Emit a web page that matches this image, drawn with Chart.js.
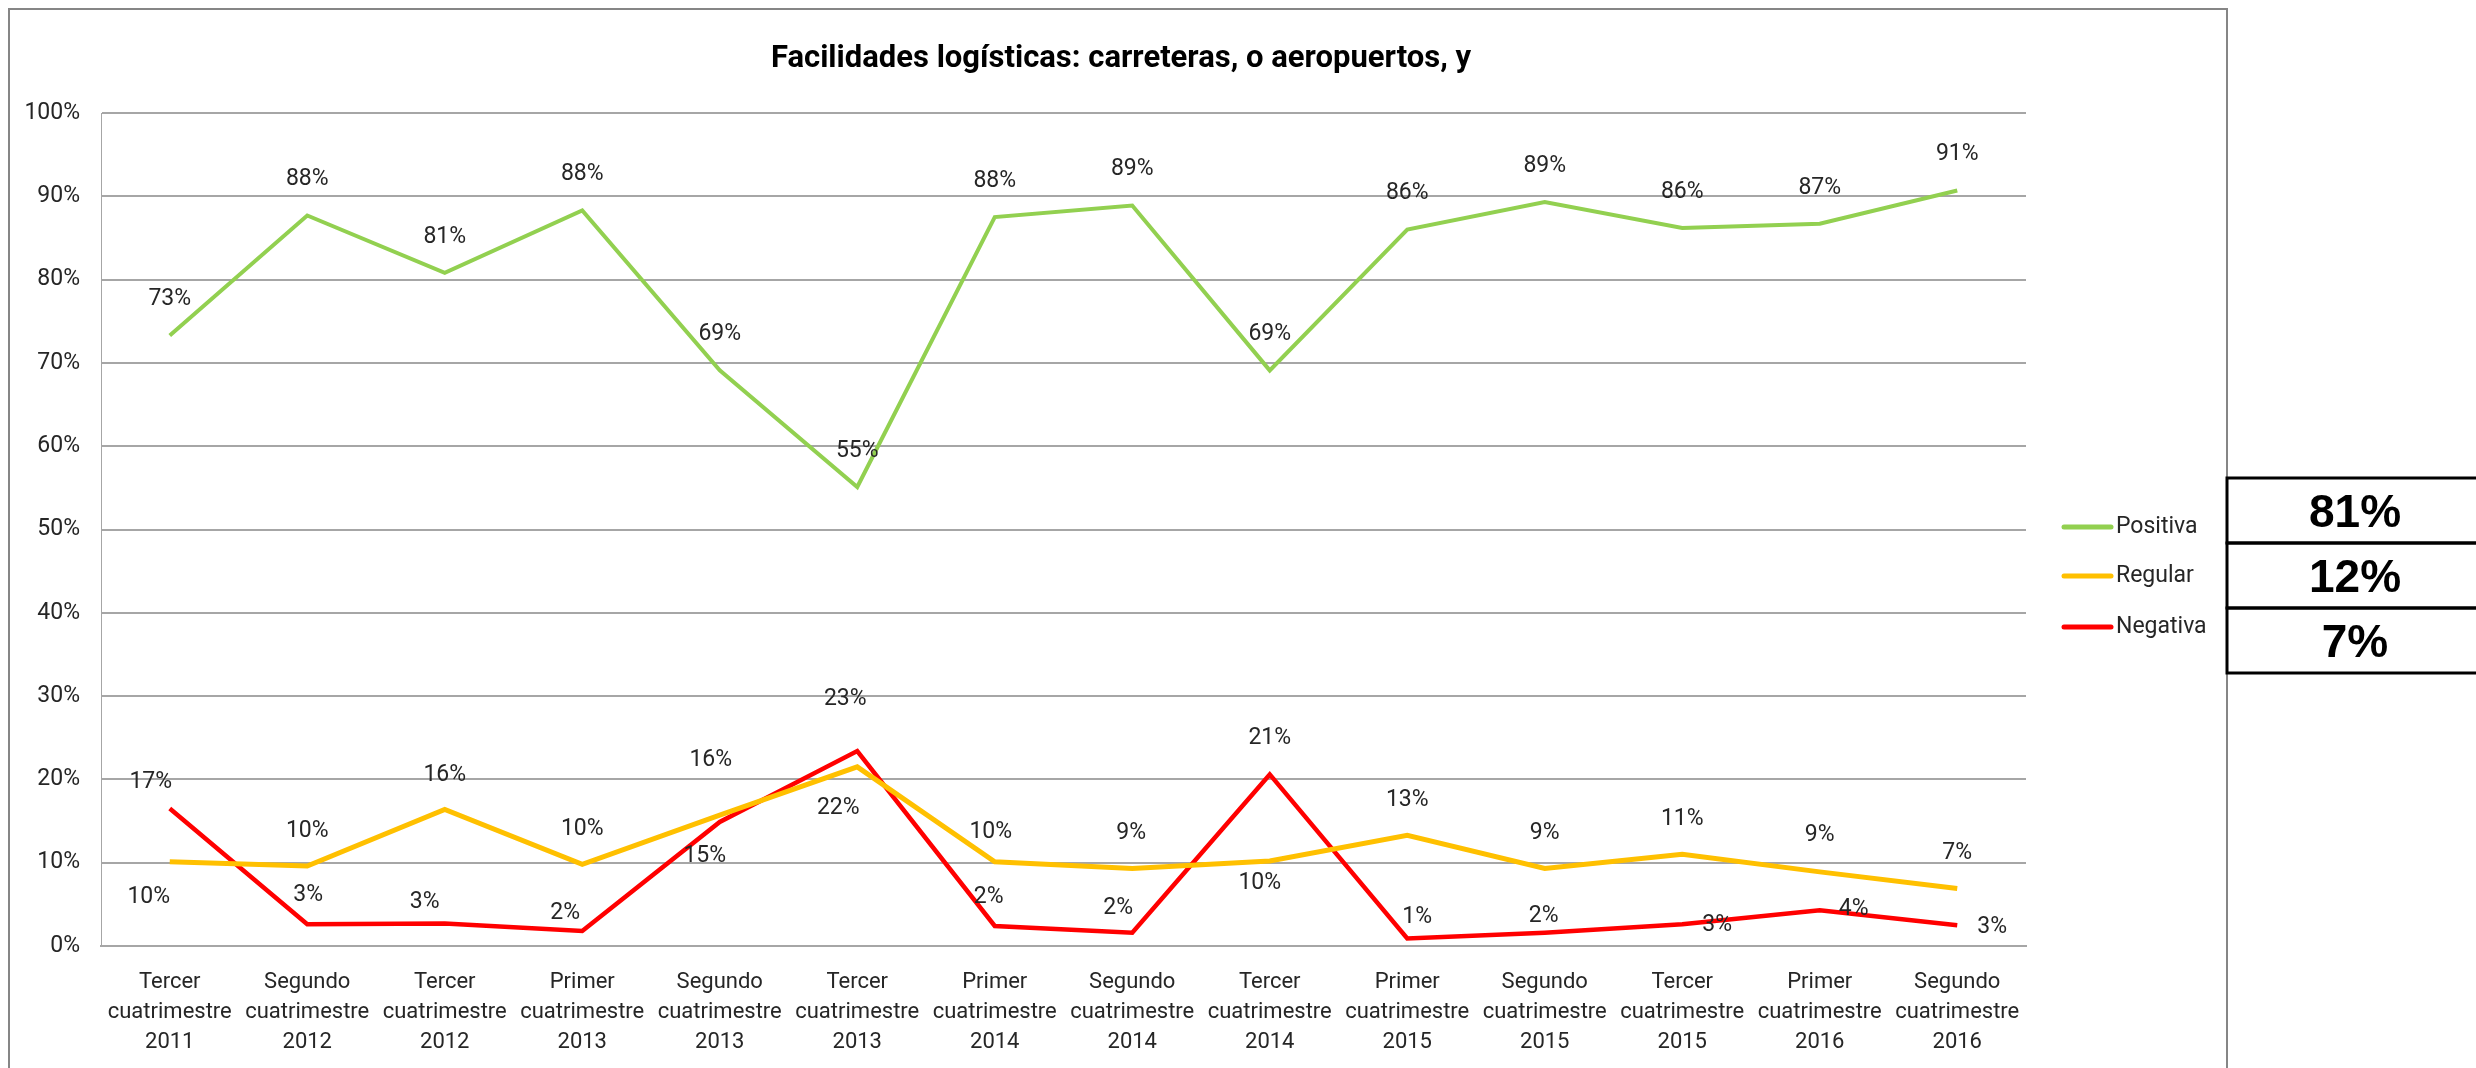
<!DOCTYPE html>
<html>
<head>
<meta charset="utf-8">
<script src="https://cdn.jsdelivr.net/npm/chart.js@4.4.1/dist/chart.umd.min.js"></script>
<style>
  html, body { margin: 0; padding: 0; background: #fff; }
  #wrap { position: relative; width: 2476px; height: 1068px; }
</style>
</head>
<body>
<div id="wrap"><canvas id="chart"></canvas></div>
<script>
const chartTitle = "Facilidades logísticas: carreteras, o aeropuertos, y";

const categories = [
  ["Tercer", "cuatrimestre", "2011"],
  ["Segundo", "cuatrimestre", "2012"],
  ["Tercer", "cuatrimestre", "2012"],
  ["Primer", "cuatrimestre", "2013"],
  ["Segundo", "cuatrimestre", "2013"],
  ["Tercer", "cuatrimestre", "2013"],
  ["Primer", "cuatrimestre", "2014"],
  ["Segundo", "cuatrimestre", "2014"],
  ["Tercer", "cuatrimestre", "2014"],
  ["Primer", "cuatrimestre", "2015"],
  ["Segundo", "cuatrimestre", "2015"],
  ["Tercer", "cuatrimestre", "2015"],
  ["Primer", "cuatrimestre", "2016"],
  ["Segundo", "cuatrimestre", "2016"]
];

const seriesNames = ["Positiva", "Regular", "Negativa"];
const positiva = [73.3, 87.7, 80.8, 88.3, 69.1, 55.1, 87.5, 88.9, 69.1, 86.0, 89.3, 86.2, 86.7, 90.7];
const regular  = [10.1, 9.6, 16.4, 9.8, 15.7, 21.5, 10.1, 9.3, 10.2, 13.3, 9.3, 11.0, 8.9, 6.9];
const negativa = [16.5, 2.6, 2.7, 1.8, 14.9, 23.4, 2.4, 1.6, 20.6, 0.9, 1.6, 2.6, 4.3, 2.5];

const yTicks = [0, 10, 20, 30, 40, 50, 60, 70, 80, 90, 100];
const summary = ["81%", "12%", "7%"];

// label offsets (style only)
const offPositiva = positiva.map(() => [0, -36]);
const offRegular = [[-21, 35], [0, -35], [0, -34], [0, -35], [-9, -55], [-19, 41], [-4, -30],
  [-1, -35], [-10, 22], [0, -35], [0, -35], [0, -35], [0, -37], [0, -35]];
const offNegativa = [[-19, -26], [1, -29], [-20, -21], [-17, -18], [-15, 34], [-12, -52], [-6, -29],
  [-14, -24], [0, -36], [10, -21], [-1, -16], [35, 1], [34, -1], [35, 2]];

const FONT = "Roboto, 'Liberation Sans', sans-serif";
const colors = ["#92D050", "#FFC000", "#FF0000"];

const extras = {
  id: "extras",
  afterDatasetsDraw(chart) {
    const ctx = chart.ctx;
    const offs = [offPositiva, offRegular, offNegativa];
    ctx.save();
    ctx.font = "23px " + FONT;
    ctx.fillStyle = "#262626";
    ctx.textAlign = "center";
    ctx.textBaseline = "middle";
    chart.data.datasets.forEach((ds, di) => {
      chart.getDatasetMeta(di).data.forEach((pt, i) => {
        const o = offs[di][i];
        ctx.fillText(Math.round(ds.data[i]) + "%", pt.x + o[0], pt.y + o[1]);
      });
    });
    ctx.restore();
  },
  afterDraw(chart) {
    const ctx = chart.ctx;
    ctx.save();
    // outer chart frame
    ctx.strokeStyle = "#868686";
    ctx.lineWidth = 2;
    ctx.beginPath();
    ctx.moveTo(9, 1070); ctx.lineTo(9, 9); ctx.lineTo(2227, 9); ctx.lineTo(2227, 1070);
    ctx.stroke();

    // title
    ctx.fillStyle = "#000";
    ctx.font = "bold 31px " + FONT;
    ctx.textAlign = "center";
    ctx.textBaseline = "middle";
    ctx.fillText(chartTitle, 1121, 59);

    // legend
    const ly = [527, 576, 627];
    ctx.font = "23px " + FONT;
    ctx.textAlign = "left";
    ctx.lineCap = "round";
    chart.data.datasets.forEach((ds, i) => {
      ctx.strokeStyle = ds.borderColor;
      ctx.lineWidth = 5;
      ctx.beginPath();
      ctx.moveTo(2064, ly[i]); ctx.lineTo(2111, ly[i]);
      ctx.stroke();
      ctx.fillStyle = "#262626";
      ctx.fillText(ds.label, 2116, ly[i]);
    });

    // summary boxes
    ctx.lineCap = "butt";
    ctx.strokeStyle = "#000";
    ctx.lineWidth = 3;
    const rows = [478, 543, 608, 673];
    for (let i = 0; i < 3; i++) {
      ctx.strokeRect(2227, rows[i], 260, rows[i + 1] - rows[i]);
    }
    ctx.fillStyle = "#000";
    ctx.font = "bold 46px 'Liberation Sans', Arial, sans-serif";
    ctx.textAlign = "center";
    summary.forEach((s, i) => {
      ctx.fillText(s, 2355, (rows[i] + rows[i + 1]) / 2 + 4);
    });
    ctx.restore();
  }
};

new Chart(document.getElementById("chart"), {
  type: "line",
  data: {
    labels: categories,
    datasets: [
      { label: seriesNames[0], data: positiva, borderColor: colors[0], backgroundColor: colors[0], borderWidth: 4 },
      { label: seriesNames[1], data: regular, borderColor: colors[1], backgroundColor: colors[1], borderWidth: 5 },
      { label: seriesNames[2], data: negativa, borderColor: colors[2], backgroundColor: colors[2], borderWidth: 4.5 }
    ]
  },
  options: {
    responsive: true,
    maintainAspectRatio: false,
    animation: false,
    layout: { padding: { left: 8, right: 450, top: 113, bottom: 0 } },
    elements: { point: { radius: 0, hoverRadius: 0 }, line: { tension: 0, borderJoinStyle: "miter" } },
    plugins: { legend: { display: false }, title: { display: false }, tooltip: { enabled: false } },
    scales: {
      x: {
        offset: true,
        grid: { display: false },
        border: { display: true, color: "#A6A6A6", width: 2 },
        ticks: {
          autoSkip: false, maxRotation: 0, minRotation: 0, padding: 14,
          color: "#262626", font: { family: FONT, size: 22, lineHeight: 1.35 }
        },
        afterFit: s => { s.height = 122; }
      },
      y: {
        min: 0, max: 100,
        afterBuildTicks: s => { s.ticks = yTicks.map(v => ({ value: v })); },
        grid: { color: "#A6A6A6", lineWidth: 2, drawTicks: false },
        border: { display: true, color: "#A6A6A6", width: 1 },
        ticks: {
          padding: 21, color: "#262626",
          font: { family: FONT, size: 23 },
          callback: v => v + "%"
        },
        afterFit: s => { s.width = 93; }
      }
    }
  },
  plugins: [extras]
});
</script>
</body>
</html>
